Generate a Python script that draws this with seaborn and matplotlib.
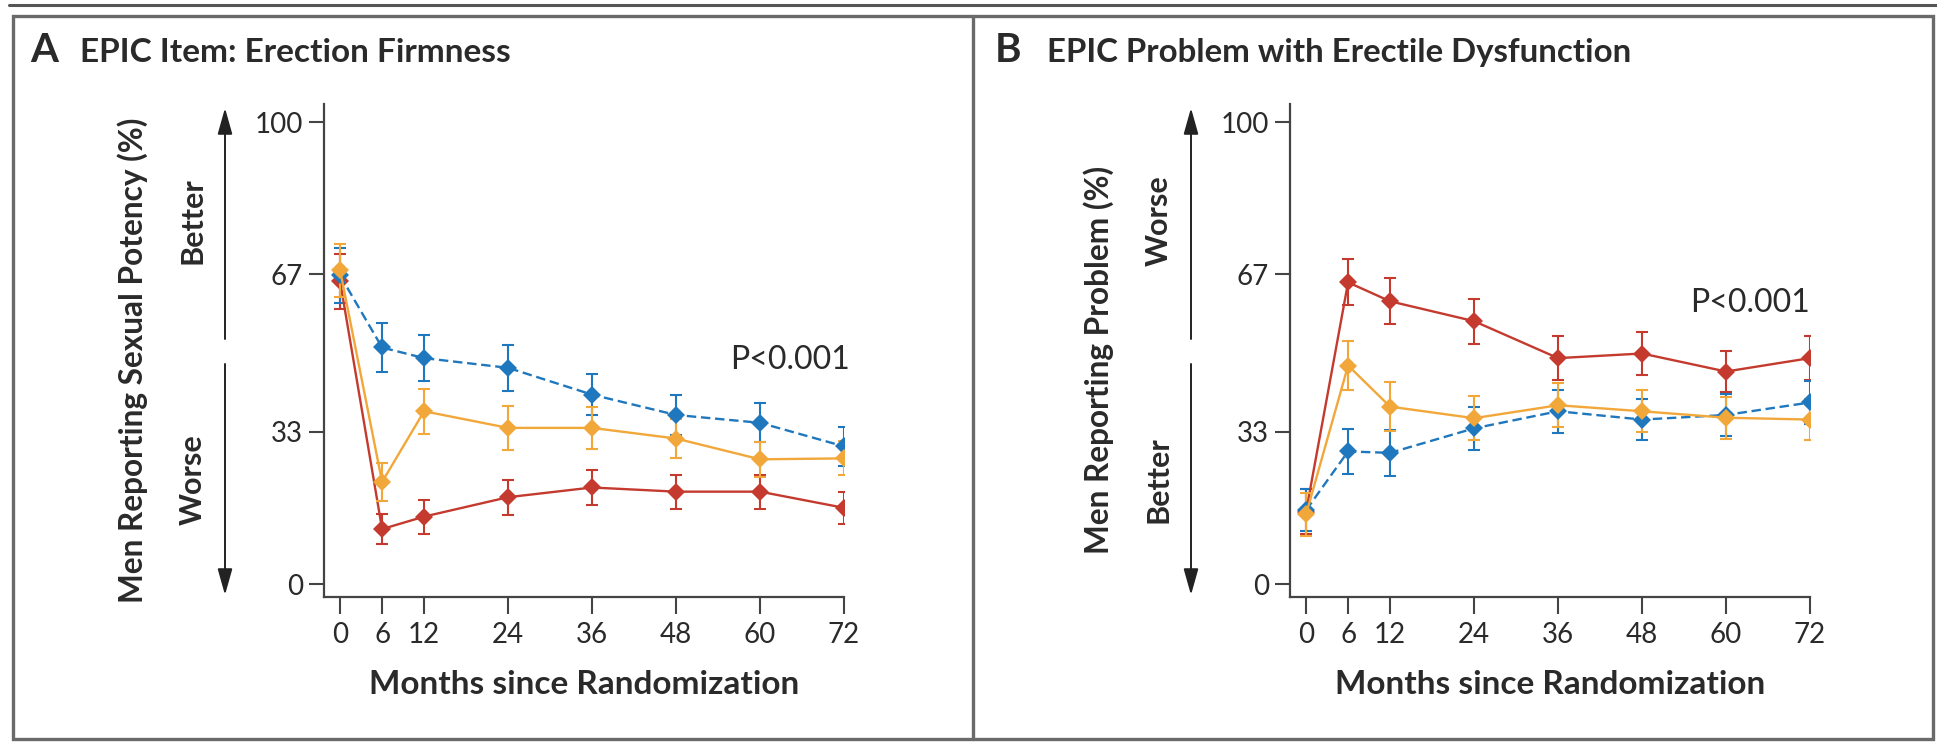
import numpy as np
import pandas as pd
import matplotlib
matplotlib.use("Agg")
import matplotlib.pyplot as plt
from matplotlib.patches import FancyArrowPatch, Rectangle
from matplotlib.lines import Line2D
import seaborn as sns

# ---------------- data ----------------
months = [0, 6, 12, 24, 36, 48, 60, 72]
x_ticks = [0, 6, 12, 24, 36, 48, 60, 72]
y_ticks = [0, 33, 67, 100]
groups = ["Prostatectomy", "Radiotherapy", "Active monitoring"]

# Panel A: EPIC item erection firmness (% reporting sexual potency)
a_surgery = [65.5, 11.9, 14.6, 18.8, 20.9, 20.0, 20.0, 16.5]
a_surgery_err = [5.9, 3.2, 3.7, 3.8, 3.8, 3.7, 3.7, 3.4]
a_radio = [67.9, 22.1, 37.4, 33.8, 33.8, 31.5, 27.0, 27.2]
a_radio_err = [5.8, 4.2, 4.9, 4.8, 4.5, 4.2, 3.8, 3.7]
a_monitor = [66.8, 51.2, 48.9, 46.8, 41.0, 36.6, 34.9, 29.8]
a_monitor_err = [6.0, 5.3, 5.0, 5.0, 4.5, 4.3, 4.2, 4.3]

# Panel B: EPIC problem with erectile dysfunction (% reporting problem)
b_surgery = [15.7, 65.3, 61.2, 56.9, 48.9, 49.9, 46.0, 48.9]
b_surgery_err = [4.8, 5.0, 5.0, 4.9, 4.8, 4.7, 4.5, 4.8]
b_radio = [15.1, 47.3, 38.4, 35.9, 38.7, 37.4, 36.0, 35.6]
b_radio_err = [4.6, 5.3, 5.3, 4.7, 4.8, 4.5, 4.5, 4.5]
b_monitor = [16.0, 28.7, 28.4, 33.7, 37.4, 35.6, 36.6, 39.3]
b_monitor_err = [4.5, 4.9, 5.0, 4.7, 4.7, 4.4, 4.6, 4.6]

titles = ["EPIC Item: Erection Firmness", "EPIC Problem with Erectile Dysfunction"]
letters = ["A", "B"]
ylabels = ["Men Reporting Sexual Potency (%)", "Men Reporting Problem (%)"]
xlabel = "Months since Randomization"
upper_words = ["Better", "Worse"]
lower_words = ["Worse", "Better"]
p_text = "P<0.001"

# ---------------- style ----------------
sns.set_theme(style="ticks")
plt.rcParams["font.family"] = ["Lato", "DejaVu Sans"]

colors = {"Prostatectomy": "#C43A2E", "Radiotherapy": "#F2A73A", "Active monitoring": "#1F78BE"}
dashes = {"Prostatectomy": "", "Radiotherapy": "", "Active monitoring": (4, 2)}
text_col = "#2a2a2a"
spine_col = "#444444"

W, H = 1937, 742
fig = plt.figure(figsize=(W / 100, H / 100), dpi=100)
fig.patch.set_facecolor("white")


def fx(px):
    return px / W


def fy(py):
    return 1 - py / H


def make_df(s, r, m):
    rows = []
    for g, vals in zip(groups, [s, r, m]):
        for mo, v in zip(months, vals):
            rows.append({"month": mo, "value": v, "group": g})
    return pd.DataFrame(rows)


panels = [
    dict(vals=(a_surgery, a_radio, a_monitor), errs=(a_surgery_err, a_radio_err, a_monitor_err),
         left=324, p_xy=(72.8, 48.5)),
    dict(vals=(b_surgery, b_radio, b_monitor), errs=(b_surgery_err, b_radio_err, b_monitor_err),
         left=1290, p_xy=(72.0, 60.8)),
]

ax_top, ax_bottom = 104, 597
ax_w = 520

for i, p in enumerate(panels):
    left = p["left"]
    ax = fig.add_axes([fx(left), fy(ax_bottom), ax_w / W, (ax_bottom - ax_top) / H])
    df = make_df(*p["vals"])
    draw_order = ["Prostatectomy", "Active monitoring", "Radiotherapy"]
    for g in draw_order:
        gi = groups.index(g)
        ax.errorbar(months, p["vals"][gi], yerr=p["errs"][gi], fmt="none",
                    ecolor=colors[g], elinewidth=1.5, capsize=4, capthick=1.5,
                    zorder=2 + draw_order.index(g))
    for g in draw_order:
        sub = df[df["group"] == g]
        sns.lineplot(data=sub, x="month", y="value", ax=ax, color=colors[g],
                     linewidth=1.7, marker="D", markersize=9.5, markeredgewidth=0,
                     legend=False, zorder=3 + draw_order.index(g))
        if dashes[g]:
            ax.lines[-1].set_dashes(dashes[g])
    ax.set_xlim(-2.3, 72)
    ax.set_ylim(-2.8, 103.9)
    ax.set_xticks(x_ticks)
    ax.set_yticks(y_ticks)
    ax.set_xticklabels([str(t) for t in x_ticks])
    ax.set_yticklabels([str(t) for t in y_ticks])
    ax.set_xlabel("")
    ax.set_ylabel("")
    ax.tick_params(axis="both", direction="out", colors=spine_col, labelcolor=text_col,
                   labelsize=20, width=1.5)
    ax.tick_params(axis="y", length=11, pad=4)
    ax.tick_params(axis="x", length=12, pad=6)
    for s in ["top", "right"]:
        ax.spines[s].set_visible(False)
    for s in ["left", "bottom"]:
        ax.spines[s].set_color(spine_col)
        ax.spines[s].set_linewidth(1.6)
    ax.set_facecolor("white")
    ax.text(p["p_xy"][0], p["p_xy"][1], p_text, ha="right", va="center",
            fontsize=23, color=text_col, clip_on=False)

    # x label
    fig.text(fx(left + 260), fy(684), xlabel, ha="center", va="center",
             fontsize=24, fontweight="bold", color=text_col)
    # y label
    fig.text(fx(left - 191), fy(360), ylabels[i], ha="center", va="center",
             rotation=90, fontsize=22.8, fontweight="bold", color=text_col)
    # Better / Worse
    fig.text(fx(left - 131), fy(221), upper_words[i], ha="center", va="center",
             rotation=90, fontsize=22, fontweight="bold", color=text_col)
    fig.text(fx(left - 131), fy(480), lower_words[i], ha="center", va="center",
             rotation=90, fontsize=22, fontweight="bold", color=text_col)
    # arrows
    axx = left - 99
    for y0, y1 in [(339, 108), (364, 595)]:
        arr = FancyArrowPatch((fx(axx), fy(y0)), (fx(axx), fy(y1)),
                              transform=fig.transFigure,
                              arrowstyle="-|>,head_length=1.6,head_width=0.45",
                              mutation_scale=10, color="#222222", linewidth=1.4,
                              shrinkA=0, shrinkB=0)
        fig.add_artist(arr)

# titles
fig.text(fx(30), fy(62), letters[0], ha="left", va="baseline", fontsize=29,
         fontweight="bold", color=text_col)
fig.text(fx(80), fy(62), titles[0], ha="left", va="baseline", fontsize=24,
         fontweight="bold", color=text_col)
fig.text(fx(995), fy(62), letters[1], ha="left", va="baseline", fontsize=29,
         fontweight="bold", color=text_col)
fig.text(fx(1047), fy(62), titles[1], ha="left", va="baseline", fontsize=23.8,
         fontweight="bold", color=text_col)

# frame lines
fig.add_artist(Line2D([fx(9), fx(1937)], [fy(5), fy(5)], transform=fig.transFigure,
                      color="#555555", linewidth=2.2))
fig.add_artist(Rectangle((fx(13), fy(739)), (1933 - 13) / W, (739 - 16) / H,
                         transform=fig.transFigure, fill=False,
                         edgecolor="#6a6a6a", linewidth=2.4))
fig.add_artist(Line2D([fx(973), fx(973)], [fy(16), fy(739)], transform=fig.transFigure,
                      color="#6a6a6a", linewidth=2.4))

fig.savefig("out.png", dpi=100, facecolor="white")
